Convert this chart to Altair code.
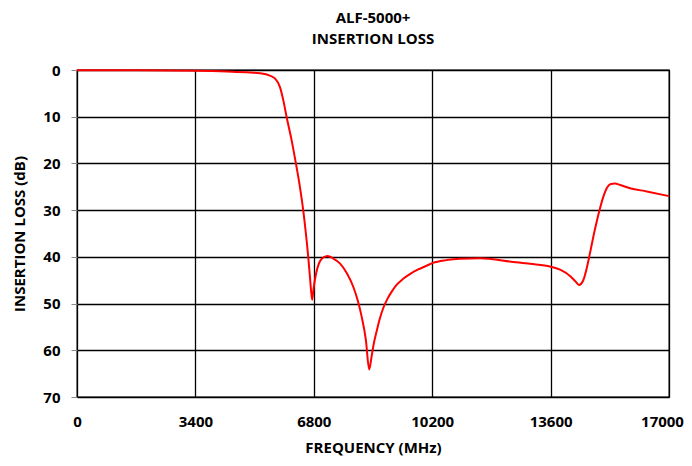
import altair as alt
import pandas as pd

freq_mhz = [0, 1700, 3400, 4300, 4860, 5256, 5539, 5682, 5826, 5922, 6018, 6162, 6286,
            6401, 6496, 6573, 6640, 6697, 6752, 6790, 6829, 6900, 6973, 7080, 7194, 7350,
            7549, 7750, 7933, 8060, 8174, 8296, 8390, 8458, 8524, 8602, 8697, 8792, 8907,
            9033, 9177, 9367, 9559, 9797, 10039, 10219, 10600, 10995, 11573, 12531, 13010,
            13600, 13888, 14175, 14319, 14416, 14538, 14635, 14731, 14827, 14923, 15019,
            15115, 15211, 15326, 15449, 15593, 15881, 16362, 17000]
loss_db = [0.05, 0.08, 0.15, 0.3, 0.5, 0.7, 1.2, 1.8, 3.6, 6.4, 10, 15, 20,
           25, 30, 35, 40, 45, 49.2, 47, 45, 42.5, 41, 40.1, 39.8, 40.3,
           41.4, 43.5, 46.4, 49.3, 52.8, 57.8, 64.1, 61.4, 58.5, 56.0, 53.2, 51.0, 49.1,
           47.5, 46.0, 44.7, 43.7, 42.7, 41.9, 41.3, 40.7, 40.4, 40.3, 41.1, 41.5,
           42.1, 42.8, 44.2, 45.3, 46.0, 45.0, 42.5, 39.2, 35.7, 32.5, 29.6,
           27.1, 25.3, 24.4, 24.3, 24.6, 25.3, 26.0, 27.0]
x_ticks = [0, 3400, 6800, 10200, 13600, 17000]
y_ticks = [0, 10, 20, 30, 40, 50, 60, 70]
title_lines = ["ALF-5000+", "INSERTION LOSS"]

df = pd.DataFrame({"freq": freq_mhz, "loss": loss_db})

FONT = "Open Sans"

chart = alt.Chart(df).mark_line(color="#FF0000", strokeWidth=2, interpolate="monotone").encode(
    x=alt.X("freq:Q",
            scale=alt.Scale(domain=[0, 17000], nice=False),
            axis=alt.Axis(values=x_ticks, title="FREQUENCY (MHz)", ticks=False,
                          labelPadding=17, titlePadding=11, format="d",
                          labelFlush=False,
                          labelOffset=alt.ExprRef("datum.value == 17000 ? -7 : 0"))),
    y=alt.Y("loss:Q",
            scale=alt.Scale(domain=[0, 70], reverse=True, nice=False),
            axis=alt.Axis(values=y_ticks, title="INSERTION LOSS (dB)", ticks=True,
                          tickSize=6, tickColor="#888888", labelPadding=11,
                          titlePadding=15)),
).properties(
    width=592, height=327,
    title=alt.TitleParams(title_lines, anchor="middle", fontSize=15, font=FONT,
                          fontWeight="bold", lineHeight=21, offset=16, color="#000000"),
    autosize=alt.AutoSizeParams(type="none"),
    padding={"left": 69, "top": 62, "right": 15, "bottom": 61},
).configure_axis(
    grid=True, gridColor="#000000", gridWidth=1.3, gridOpacity=1,
    domain=False,
    labelFont=FONT, labelFontSize=15, labelFontWeight="bold", labelColor="#000000",
    titleFont=FONT, titleFontSize=15, titleFontWeight="bold", titleColor="#000000",
).configure_view(
    stroke="#000000", strokeWidth=1.3,
)

chart.save("out.html", embed_options={"renderer": "svg", "actions": False})
